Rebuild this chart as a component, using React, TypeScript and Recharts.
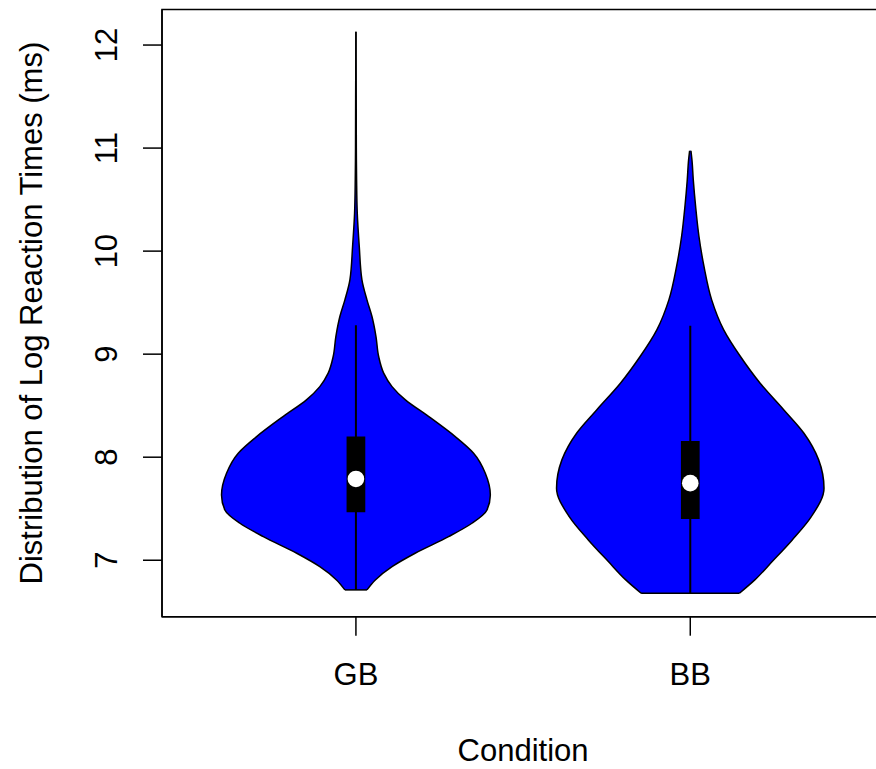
import React from "react"
import {
  ComposedChart,
  Area,
  XAxis,
  YAxis,
  ReferenceArea,
  ReferenceLine,
  ReferenceDot,
} from "recharts"

const conditions = ["GB", "BB"]
const conditionPositions = [1, 2]
const yTicks = [7, 8, 9, 10, 11, 12]

// density outline: level (log ms) -> half width (x units)
const gbLevels = [
  6.712, 6.809, 6.938, 7.068, 7.229, 7.359, 7.488, 7.634, 7.845, 8.039, 8.2, 8.394, 8.556,
  8.685, 8.816, 8.977, 9.171, 9.365, 9.527, 9.721, 10.045, 10.369, 10.692, 11.0, 11.5, 12.13,
]
const gbHalfWidths = [
  0.033, 0.058, 0.108, 0.177, 0.277, 0.347, 0.392, 0.402, 0.387, 0.352, 0.297, 0.218, 0.148,
  0.108, 0.083, 0.068, 0.06, 0.048, 0.033, 0.018, 0.01, 0.004, 0.002, 0.0012, 0.0008, 0,
]
const bbLevels = [
  6.68, 6.809, 6.987, 7.197, 7.423, 7.699, 7.974, 8.233, 8.459, 8.718, 8.977, 9.236, 9.527,
  9.851, 10.142, 10.433, 10.692, 10.886, 10.974,
]
const bbHalfWidths = [
  0.147, 0.193, 0.245, 0.305, 0.362, 0.4, 0.384, 0.34, 0.28, 0.209, 0.15, 0.1, 0.064, 0.041,
  0.026, 0.016, 0.009, 0.005, 0.002,
]

// box plot stats per condition
const medians = [7.789, 7.748]
const q1 = [7.466, 7.4]
const q3 = [8.2, 8.158]
const whiskerLow = [6.712, 6.68]
const whiskerHigh = [9.28, 9.275]

const xDomain: [number, number] = [0.42, 2.58]
const yDomain: [number, number] = [6.452, 12.345]
const boxHalf = 0.028
const FONT = "'Liberation Sans', Arial, Helvetica, sans-serif"
const FS = 31

const rows = [
  ...gbLevels.map((y, i) => ({
    y,
    gb: [1 - gbHalfWidths[i], 1 + gbHalfWidths[i]],
    bb: [null, null],
  })),
  ...bbLevels.map((y, i) => ({
    y,
    gb: [null, null],
    bb: [2 - bbHalfWidths[i], 2 + bbHalfWidths[i]],
  })),
]

const bottoms = [
  { pos: 1, level: gbLevels[0], w: gbHalfWidths[0] },
  { pos: 2, level: bbLevels[0], w: bbHalfWidths[0] },
]

function XTick({ x, y, payload }: any) {
  const i = conditionPositions.indexOf(payload.value)
  return (
    <text x={x} y={y} dy={49} textAnchor="middle" fontSize={FS} fontFamily={FONT} fill="#000">
      {conditions[i]}
    </text>
  )
}

function YTick({ x, y, payload }: any) {
  return (
    <text
      x={x}
      y={y}
      transform={`rotate(-90, ${x}, ${y})`}
      textAnchor="middle"
      fontSize={FS}
      fontFamily={FONT}
      fill="#000"
    >
      {payload.value}
    </text>
  )
}

export default function App() {
  return (
    <div
      style={{
        position: "absolute",
        left: 0,
        top: 0,
        width: 876,
        height: 769,
        overflow: "hidden",
        background: "#fff",
      }}
    >
      <ComposedChart
        width={890}
        height={769}
        data={rows}
        layout="vertical"
        margin={{ top: 9.5, right: 5.8, bottom: 0, left: 0 }}
      >
        <XAxis
          type="number"
          domain={xDomain}
          allowDataOverflow
          ticks={conditionPositions}
          height={152.3}
          tickSize={19}
          tickMargin={0}
          axisLine={{ stroke: "#000", strokeWidth: 1.5 }}
          tickLine={{ stroke: "#000", strokeWidth: 1.5 }}
          tick={<XTick />}
          label={(props: any) => {
            const vb = props.viewBox
            return (
              <text
                x={vb.x + vb.width / 2}
                y={761}
                textAnchor="middle"
                fontSize={FS}
                fontFamily={FONT}
                fill="#000"
              >
                Condition
              </text>
            )
          }}
        />
        <YAxis
          type="number"
          dataKey="y"
          domain={yDomain}
          allowDataOverflow
          reversed
          ticks={yTicks}
          width={162}
          tickSize={19}
          tickMargin={26}
          axisLine={{ stroke: "#000", strokeWidth: 1.5 }}
          tickLine={{ stroke: "#000", strokeWidth: 1.5 }}
          tick={<YTick />}
          label={(props: any) => {
            const vb = props.viewBox
            const cy = vb.y + vb.height / 2
            return (
              <text
                x={41.7}
                y={cy}
                transform={`rotate(-90, 41.7, ${cy})`}
                textAnchor="middle"
                fontSize={FS}
                fontFamily={FONT}
                fill="#000"
              >
                Distribution of Log Reaction Times (ms)
              </text>
            )
          }}
        />
        <ReferenceArea
          x1={xDomain[0]}
          x2={xDomain[1]}
          y1={yDomain[0]}
          y2={yDomain[1]}
          fill="none"
          stroke="#000"
          strokeWidth={1.5}
        />
        <Area
          dataKey="gb"
          type="monotone"
          fill="#0000ff"
          fillOpacity={1}
          stroke="#000"
          strokeWidth={1.5}
          dot={false}
          activeDot={false}
          isAnimationActive={false}
        />
        <Area
          dataKey="bb"
          type="monotone"
          fill="#0000ff"
          fillOpacity={1}
          stroke="#000"
          strokeWidth={1.5}
          dot={false}
          activeDot={false}
          isAnimationActive={false}
        />
        {bottoms.map((b) => (
          <ReferenceLine
            key={`bottom-${b.pos}`}
            segment={[
              { x: b.pos - b.w, y: b.level },
              { x: b.pos + b.w, y: b.level },
            ]}
            stroke="#000"
            strokeWidth={1.5}
            zIndex={650}
          />
        ))}
        {conditionPositions.map((p, i) => (
          <ReferenceLine
            key={`whisker-${p}`}
            segment={[
              { x: p, y: whiskerLow[i] },
              { x: p, y: whiskerHigh[i] },
            ]}
            stroke="#000"
            strokeWidth={2}
            zIndex={650}
          />
        ))}
        {conditionPositions.map((p, i) => (
          <ReferenceArea
            key={`box-${p}`}
            x1={p - boxHalf}
            x2={p + boxHalf}
            y1={q1[i]}
            y2={q3[i]}
            fill="#000"
            fillOpacity={1}
            stroke="none"
            zIndex={700}
          />
        ))}
        {conditionPositions.map((p, i) => (
          <ReferenceDot
            key={`median-${p}`}
            x={p}
            y={medians[i]}
            r={8.3}
            fill="#fff"
            stroke="none"
            zIndex={800}
          />
        ))}
      </ComposedChart>
    </div>
  )
}
